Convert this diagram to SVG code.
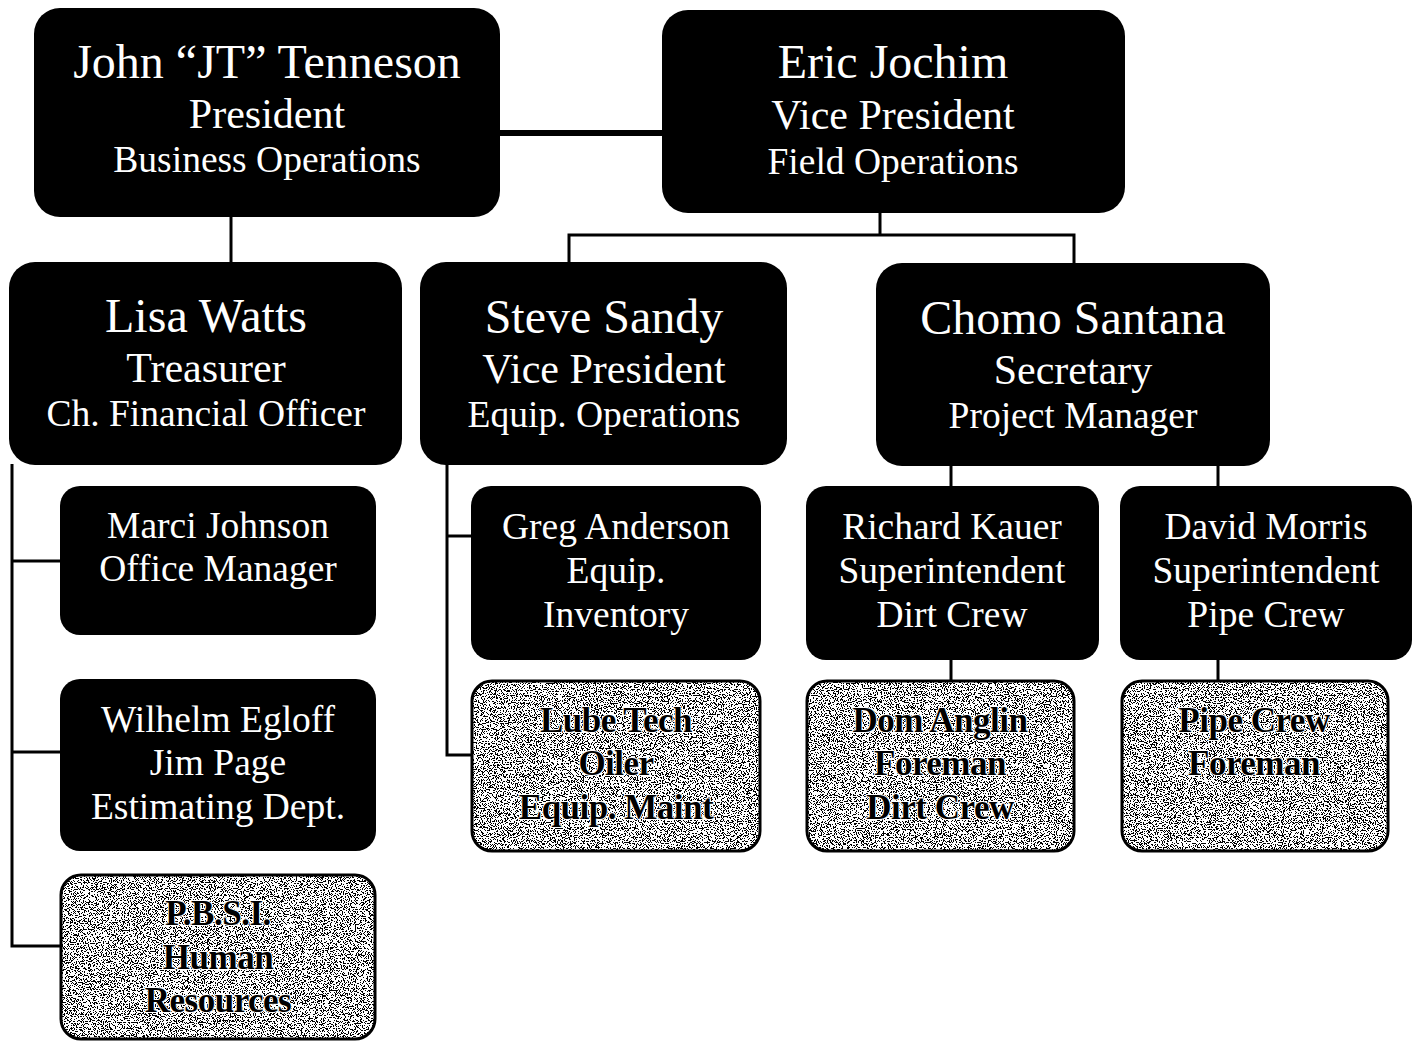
<svg xmlns="http://www.w3.org/2000/svg" width="1419" height="1041" viewBox="0 0 1419 1041">
<defs>
<style>
.box{fill:#000;}
.gbox{fill:#a6a6a6;}
.gb{fill:none;stroke:#000;stroke-width:3;}
text{font-family:"Liberation Serif","Times New Roman",serif;text-anchor:middle;}
.w{fill:#fff;}
.n1{font-size:48px;}
.n2{font-size:42px;}
.n3{font-size:37.5px;}
.g{fill:#000;font-weight:bold;font-size:35px;letter-spacing:-0.5px;stroke:#fff;stroke-width:2;paint-order:stroke;}
.c{fill:none;stroke:#000;stroke-width:3;}
.ct{fill:none;stroke:#000;stroke-width:6;}
</style>
<filter id="grain" x="0" y="0" width="100%" height="100%">
<feTurbulence type="fractalNoise" baseFrequency="0.85" numOctaves="2" seed="7" result="n"/>
<feColorMatrix in="n" type="matrix" values="1 0 0 0 0  1 0 0 0 0  1 0 0 0 0  0 0 0 0 1" result="g"/>
<feComponentTransfer in="g" result="t">
<feFuncR type="discrete" tableValues="0 0 0 0 0 0 0 0 0 1 1 1 1 1 1 1 1 1 1 1"/>
<feFuncG type="discrete" tableValues="0 0 0 0 0 0 0 0 0 1 1 1 1 1 1 1 1 1 1 1"/>
<feFuncB type="discrete" tableValues="0 0 0 0 0 0 0 0 0 1 1 1 1 1 1 1 1 1 1 1"/>
</feComponentTransfer>
<feComposite in="t" in2="SourceGraphic" operator="in"/>
</filter>
</defs>
<rect width="1419" height="1041" fill="#fff"/>
<g id="connectors">
<line class="ct" x1="498" y1="133" x2="664" y2="133"/>
<line class="c" x1="231" y1="216" x2="231" y2="264"/>
<polyline class="c" points="880,212 880,235"/>
<polyline class="c" points="569,264 569,235 1074,235 1074,264"/>
<polyline class="c" points="12,464 12,946 62,946"/>
<line class="c" x1="12" y1="561" x2="62" y2="561"/>
<line class="c" x1="12" y1="752" x2="62" y2="752"/>
<polyline class="c" points="447,464 447,755 473,755"/>
<line class="c" x1="447" y1="536" x2="473" y2="536"/>
<line class="c" x1="951" y1="465" x2="951" y2="488"/>
<line class="c" x1="1218" y1="465" x2="1218" y2="488"/>
<line class="c" x1="951" y1="659" x2="951" y2="682"/>
<line class="c" x1="1218" y1="659" x2="1218" y2="682"/>
</g>
<g id="jt">
<rect class="box" x="34" y="8" width="466" height="209" rx="26"/>
<text class="w n1" x="267" y="78">John “JT” Tenneson</text>
<text class="w n2" x="267" y="128">President</text>
<text class="w n3" x="267" y="172">Business Operations</text>
</g>
<g id="eric">
<rect class="box" x="662" y="10" width="463" height="203" rx="26"/>
<text class="w n1" x="893" y="78">Eric Jochim</text>
<text class="w n2" x="893" y="129">Vice President</text>
<text class="w n3" x="893" y="174">Field Operations</text>
</g>
<g id="lisa">
<rect class="box" x="9" y="262" width="393" height="203" rx="26"/>
<text class="w n1" x="206" y="332">Lisa Watts</text>
<text class="w n2" x="206" y="382">Treasurer</text>
<text class="w n3" x="206" y="426">Ch. Financial Officer</text>
</g>
<g id="steve">
<rect class="box" x="420" y="262" width="367" height="203" rx="26"/>
<text class="w n1" x="604" y="333">Steve Sandy</text>
<text class="w n2" x="604" y="383">Vice President</text>
<text class="w n3" x="604" y="427">Equip. Operations</text>
</g>
<g id="chomo">
<rect class="box" x="876" y="263" width="394" height="203" rx="26"/>
<text class="w n1" x="1073" y="334">Chomo Santana</text>
<text class="w n2" x="1073" y="384">Secretary</text>
<text class="w n3" x="1073" y="428">Project Manager</text>
</g>
<g id="marci">
<rect class="box" x="60" y="486" width="316" height="149" rx="20"/>
<text class="w n3" x="218" y="538">Marci Johnson</text>
<text class="w n3" x="218" y="581">Office Manager</text>
</g>
<g id="wilhelm">
<rect class="box" x="60" y="679" width="316" height="172" rx="20"/>
<text class="w n3" x="218" y="732">Wilhelm Egloff</text>
<text class="w n3" x="218" y="775">Jim Page</text>
<text class="w n3" x="218" y="819">Estimating Dept.</text>
</g>
<g id="pbsi">
<rect class="gbox" x="61" y="875" width="314" height="164" rx="20"/>
<rect x="61" y="875" width="314" height="164" rx="20" fill="#fff" filter="url(#grain)"/>
<rect class="gb" x="61" y="875" width="314" height="164" rx="20"/>
<text class="g" x="218" y="925">P.B.S.I.</text>
<text class="g" x="218" y="969">Human</text>
<text class="g" x="218" y="1012">Resources</text>
</g>
<g id="greg">
<rect class="box" x="471" y="486" width="290" height="174" rx="20"/>
<text class="w n3" x="616" y="539">Greg Anderson</text>
<text class="w n3" x="616" y="583">Equip.</text>
<text class="w n3" x="616" y="627">Inventory</text>
</g>
<g id="lube">
<rect class="gbox" x="472" y="681" width="288" height="170" rx="20"/>
<rect x="472" y="681" width="288" height="170" rx="20" fill="#fff" filter="url(#grain)"/>
<rect class="gb" x="472" y="681" width="288" height="170" rx="20"/>
<text class="g" x="616" y="732">Lube Tech</text>
<text class="g" x="616" y="775">Oiler</text>
<text class="g" x="616" y="819">Equip. Maint</text>
</g>
<g id="richard">
<rect class="box" x="806" y="486" width="293" height="174" rx="20"/>
<text class="w n3" x="952" y="539">Richard Kauer</text>
<text class="w n3" x="952" y="583">Superintendent</text>
<text class="w n3" x="952" y="627">Dirt Crew</text>
</g>
<g id="david">
<rect class="box" x="1120" y="486" width="292" height="174" rx="20"/>
<text class="w n3" x="1266" y="539">David Morris</text>
<text class="w n3" x="1266" y="583">Superintendent</text>
<text class="w n3" x="1266" y="627">Pipe Crew</text>
</g>
<g id="dom">
<rect class="gbox" x="807" y="681" width="267" height="170" rx="20"/>
<rect x="807" y="681" width="267" height="170" rx="20" fill="#fff" filter="url(#grain)"/>
<rect class="gb" x="807" y="681" width="267" height="170" rx="20"/>
<text class="g" x="940" y="732">Dom Anglin</text>
<text class="g" x="940" y="775">Foreman</text>
<text class="g" x="940" y="819">Dirt Crew</text>
</g>
<g id="pipe">
<rect class="gbox" x="1122" y="681" width="266" height="170" rx="20"/>
<rect x="1122" y="681" width="266" height="170" rx="20" fill="#fff" filter="url(#grain)"/>
<rect class="gb" x="1122" y="681" width="266" height="170" rx="20"/>
<text class="g" x="1254" y="732">Pipe Crew</text>
<text class="g" x="1254" y="775">Foreman</text>
</g>
</svg>
